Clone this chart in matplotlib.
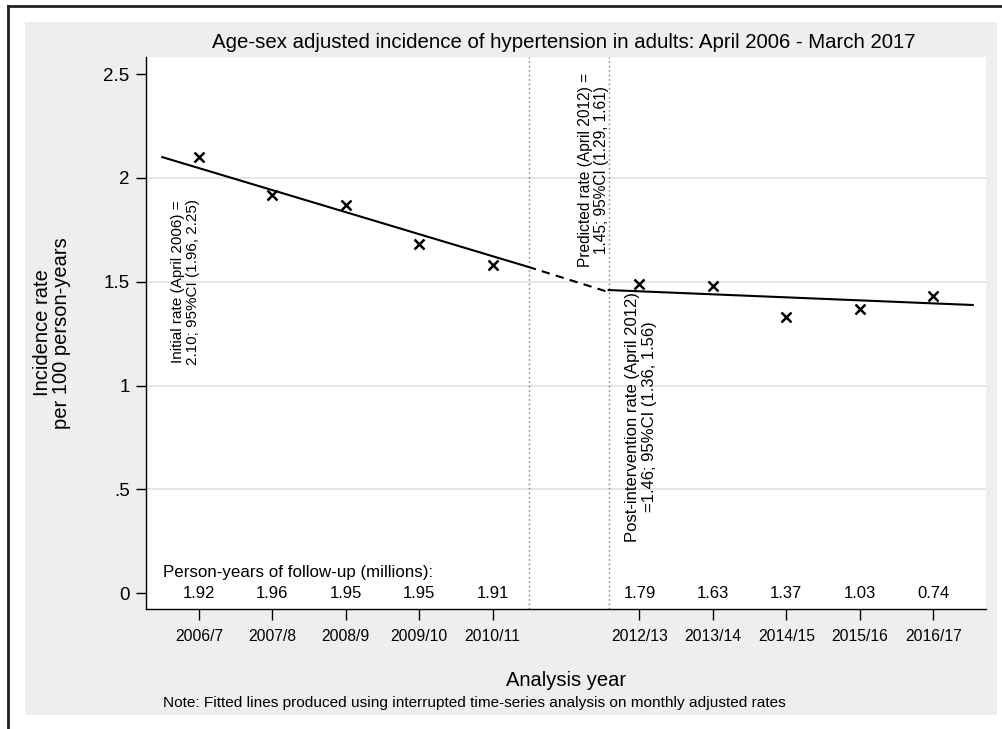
import matplotlib
matplotlib.use("Agg")
import matplotlib.pyplot as plt
from matplotlib.lines import Line2D
from matplotlib.patches import Rectangle

plt.rcParams["font.family"] = ["Liberation Sans", "DejaVu Sans"]

W, H = 1002, 729

# analysis years (x = year index, 2011/12 left out)
YEARS = ["2006/7", "2007/8", "2008/9", "2009/10", "2010/11",
         "2012/13", "2013/14", "2014/15", "2015/16", "2016/17"]
YEAR_POS = [0, 1, 2, 3, 4, 6, 7, 8, 9, 10]
RATES = [2.10, 1.92, 1.87, 1.68, 1.58, 1.49, 1.48, 1.33, 1.37, 1.43]
PERSON_YEARS = ["1.92", "1.96", "1.95", "1.95", "1.91",
                "1.79", "1.63", "1.37", "1.03", "0.74"]

# fitted segments (April 2006 = -0.5 on the year index)
PRE_X, PRE_Y = [-0.5, 4.48], [2.10, 1.572]
PRED_X, PRED_Y = [4.48, 5.58], [1.572, 1.45]
POST_X, POST_Y = [5.58, 10.54], [1.46, 1.388]
BREAKS = [4.5, 5.586]

Y_TICKS = [0, 0.5, 1, 1.5, 2, 2.5]
Y_LABELS = ["0", ".5", "1", "1.5", "2", "2.5"]

# text, x, y, size
NOTES = [
    ("Initial rate (April 2006) =\n2.10; 95%CI (1.96, 2.25)", -0.18, 1.50, 11),
    ("Predicted rate (April 2012) =\n1.45; 95%CI (1.29, 1.61)", 5.37, 2.04, 11.2),
    ("Post-intervention rate (April 2012)\n=1.46; 95%CI (1.36, 1.56)", 6.02, 0.85, 12),
]


def fx(px):
    return px / W


def fy(py):
    return 1 - py / H


fig = plt.figure(figsize=(W / 100, H / 100), dpi=100)
fig.patch.set_facecolor("white")

# grey graph region + black frame bits
fig.add_artist(Rectangle((fx(25), fy(715)), fx(997) - fx(25), fy(22) - fy(715),
                         transform=fig.transFigure, facecolor="#EEEEEE",
                         edgecolor="none", zorder=0))
fig.add_artist(Line2D([fx(8), 1], [fy(5.5), fy(5.5)], color="#222222", lw=2))
fig.add_artist(Line2D([fx(8), fx(8)], [fy(5.5), 0], color="#222222", lw=2))

left, right, top, bottom = 145.7, 986, 57, 609
ax = fig.add_axes([fx(left), fy(bottom), fx(right) - fx(left), fy(top) - fy(bottom)])
ax.set_facecolor("white")
ax.set_xlim(-0.726, 10.72)
ax.set_ylim(-0.0756, 2.582)

for s in ["top", "right"]:
    ax.spines[s].set_visible(False)
for s in ["left", "bottom"]:
    ax.spines[s].set_linewidth(1.0)
    ax.spines[s].set_color("black")

ax.set_yticks(Y_TICKS)
ax.set_yticklabels(Y_LABELS, fontsize=13.5)
ax.set_xticks(YEAR_POS)
ax.set_xticklabels(YEARS, fontsize=11.3)
ax.tick_params(axis="y", length=7.2, width=1, pad=4.3)
ax.tick_params(axis="x", length=7.8, width=1, pad=6.5)

for g in [0.5, 1, 1.5, 2]:
    ax.axhline(g, color="#E3E3E3", lw=1.3, zorder=1)

for b in BREAKS:
    ax.axvline(b, color="#777777", lw=1, linestyle=(0, (1, 2.2)), zorder=2)

ax.plot(PRE_X, PRE_Y, color="black", lw=1.5, zorder=3)
ax.plot(PRED_X, PRED_Y, color="black", lw=1.5, linestyle=(0, (4, 3)), zorder=3)
ax.plot(POST_X, POST_Y, color="black", lw=1.5, zorder=3)
ax.plot(YEAR_POS, RATES, linestyle="none", marker="x", color="black",
        markersize=6.5, markeredgewidth=1.8, zorder=4)

for txt, x, y, size in NOTES:
    ax.text(x, y, txt, rotation=90, ha="center", va="center",
            multialignment="center", fontsize=size, linespacing=1.1, zorder=5)

ax.text(-0.49, 0.098, "Person-years of follow-up (millions):", fontsize=12.2,
        ha="left", va="center")
for x, v in zip(YEAR_POS, PERSON_YEARS):
    ax.text(x, 0, v, fontsize=12, ha="center", va="center")

fig.text(fx(564), fy(42), "Age-sex adjusted incidence of hypertension in adults: April 2006 - March 2017",
         ha="center", va="center", fontsize=14.7)
fig.text(fx(52), fy(333), "Incidence rate\nper 100 person-years", rotation=90,
         ha="center", va="center", multialignment="center", fontsize=14.5,
         linespacing=1.05)
fig.text(fx(566), fy(680), "Analysis year", ha="center", va="center", fontsize=14.5)
fig.text(fx(163), fy(703), "Note: Fitted lines produced using interrupted time-series analysis on monthly adjusted rates",
         ha="left", va="center", fontsize=11.1)

fig.savefig("out.png", dpi=100)
